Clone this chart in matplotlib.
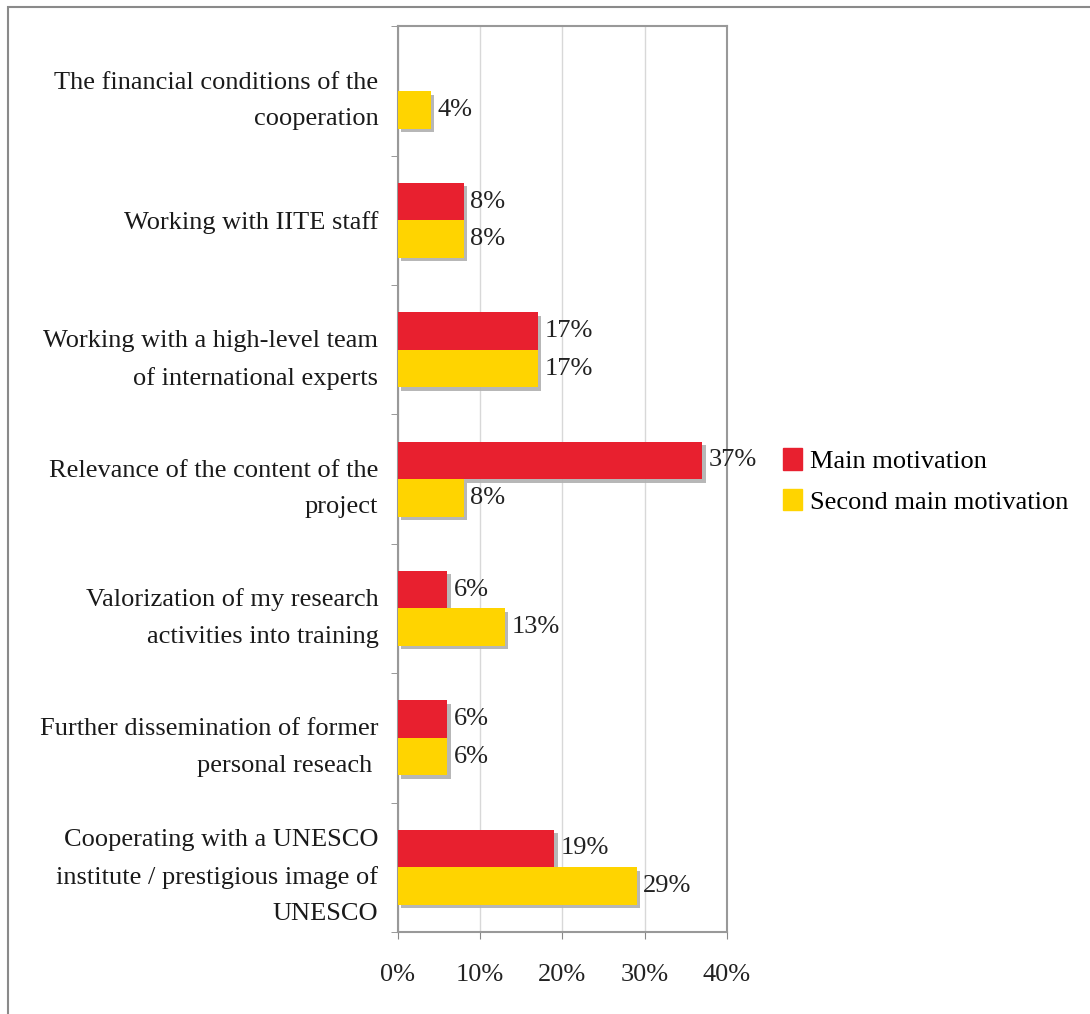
import numpy as np
import matplotlib
matplotlib.use("Agg")
import matplotlib.pyplot as plt
import matplotlib.patheffects as pe
from matplotlib.patches import Rectangle

plt.rcParams['font.family'] = ['Liberation Serif', 'DejaVu Serif']

categories = [
    "The financial conditions of the\ncooperation",
    "Working with IITE staff",
    "Working with a high-level team\nof international experts",
    "Relevance of the content of the\nproject",
    "Valorization of my research\nactivities into training",
    "Further dissemination of former\npersonal reseach ",
    "Cooperating with a UNESCO\ninstitute / prestigious image of\nUNESCO",
]
main_motivation = [None, 8, 17, 37, 6, 6, 19]
second_motivation = [4, 8, 17, 8, 13, 6, 29]
xticks = [0, 10, 20, 30, 40]

red = "#E8202F"
yellow = "#FFD400"
fs = 19

fig = plt.figure(figsize=(10.9, 10.14), dpi=100)
ax = fig.add_axes([0.365, 0.081, 0.302, 0.893])

# frame around the whole figure (right and bottom run off the edge)
fig.patches.append(Rectangle((0.0072, -0.01), 1.0, 1.003, transform=fig.transFigure,
                             fill=False, edgecolor="#8a8a8a", linewidth=1.5))

n = len(categories)
pos = np.arange(n)[::-1]
h = 0.29
shadow = [pe.SimplePatchShadow(offset=(2.5, -2.5), shadow_rgbFace="#b0b0b0", alpha=0.9), pe.Normal()]

for i in range(n):
    m = main_motivation[i]
    s = second_motivation[i]
    if m is not None:
        b = ax.barh(pos[i] + h / 2, m, height=h, color=red, zorder=3)
        b[0].set_path_effects(shadow)
        ax.text(m + 0.8, pos[i] + h / 2, f"{m}%", va="center", ha="left", fontsize=fs, color="#222222", zorder=4)
    b = ax.barh(pos[i] - h / 2, s, height=h, color=yellow, zorder=3)
    b[0].set_path_effects(shadow)
    ax.text(s + 0.8, pos[i] - h / 2, f"{s}%", va="center", ha="left", fontsize=fs, color="#222222", zorder=4)

ax.set_xlim(0, 40)
ax.set_ylim(-0.5, n - 0.5)
ax.set_xticks(xticks)
ax.set_xticklabels([f"{t}%" for t in xticks], fontsize=fs, color="#222222")
ax.set_yticks(pos)
ax.set_yticklabels(categories, fontsize=fs, color="#1a1a1a", linespacing=1.85)
ax.set_yticks(np.arange(n + 1) - 0.5, minor=True)
ax.tick_params(axis="y", which="major", length=0, pad=14)
ax.tick_params(axis="y", which="minor", length=5, color="#888888")
ax.tick_params(axis="x", length=5, color="#888888", pad=18)
ax.grid(axis="x", color="#d8d8d8", linewidth=1, zorder=0)
for sp in ax.spines.values():
    sp.set_color("#999999")
    sp.set_linewidth(1.5)

handles = [Rectangle((0, 0), 1, 1, color=red), Rectangle((0, 0), 1, 1, color=yellow)]
fig.legend(handles, ["Main motivation", "Second main motivation"], loc="center left",
           bbox_to_anchor=(0.697, 0.526), frameon=False, fontsize=fs,
           handlelength=0.7, handleheight=0.9, handletextpad=0.3, labelspacing=0.6)

fig.savefig("out.png", dpi=100)
